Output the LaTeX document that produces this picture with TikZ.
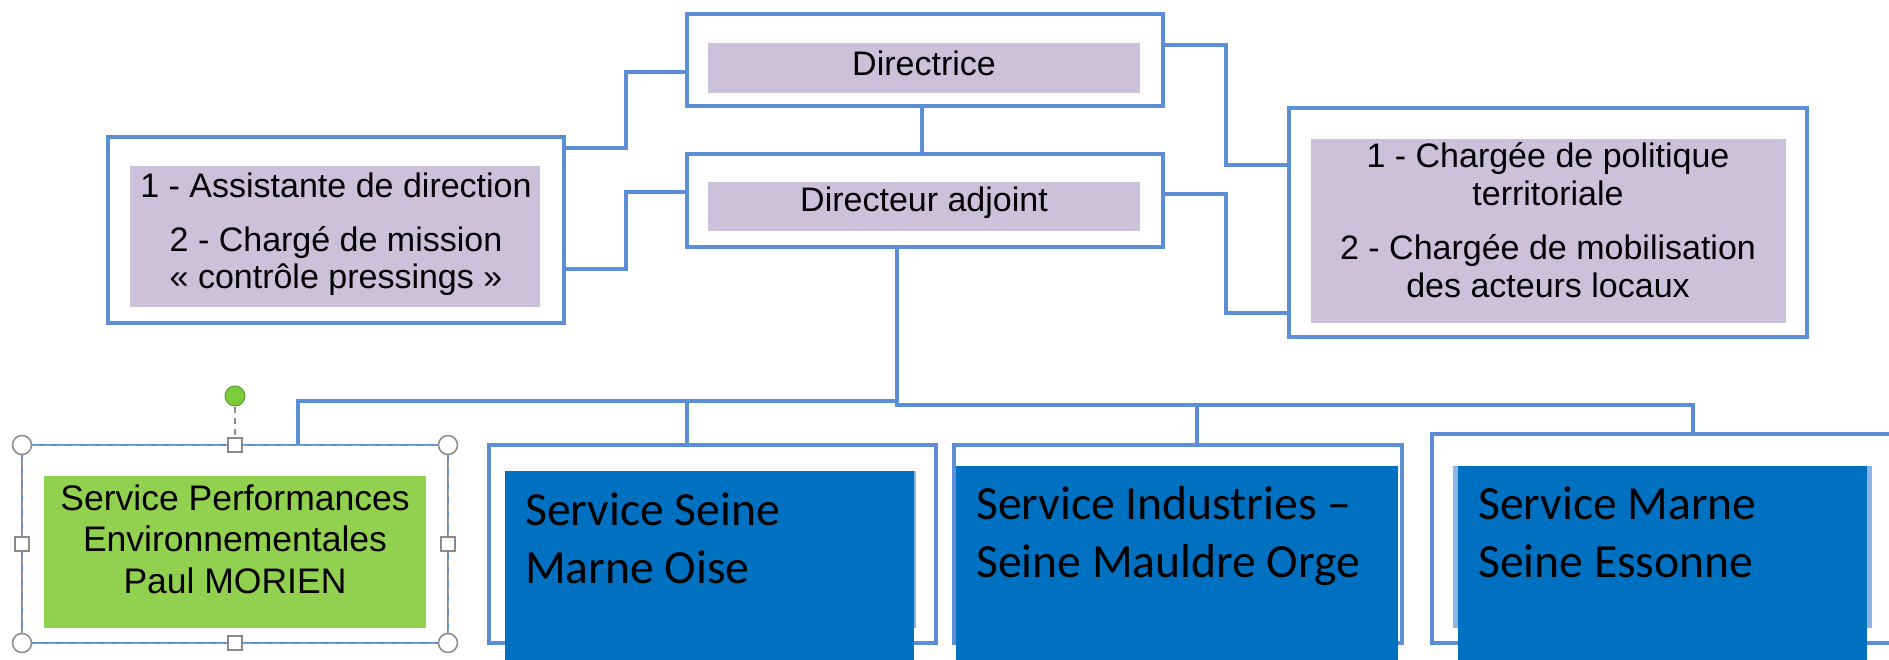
\documentclass[tikz,border=0pt]{standalone}
\usepackage{fontspec}
\setmainfont{Liberation Sans}
\newfontfamily\calibfont{Carlito}
\definecolor{linecol}{HTML}{5B8ED6}
\definecolor{lilac}{HTML}{CCC1DA}
\definecolor{leaf}{HTML}{92D050}
\definecolor{deepblue}{HTML}{0070C0}
\definecolor{paleblue}{HTML}{8DB6E6}
\definecolor{handlegray}{HTML}{8A8A8A}
\definecolor{rotgreen}{HTML}{7CCB3C}
\definecolor{rotgreendark}{HTML}{5E9E2E}
\begin{document}
\begin{tikzpicture}[x=1pt,y=-1pt,
  frame/.style={draw=linecol,line width=3.5pt,fill=white,inner sep=0pt,outer sep=0pt},
  fillbox/.style={inner sep=0pt,outer sep=0pt,draw=none},
  conn/.style={draw=linecol,line width=3.5pt},
  lbl/.style={inner sep=0pt,font=\fontsize{34}{37}\selectfont,align=center,anchor=base},
  bluelbl/.style={inner sep=0pt,font=\calibfont\fontsize{47.6}{58}\selectfont,align=left,anchor=base west},
  knob/.style={circle,draw=handlegray,line width=1.5pt,fill=white,minimum size=19pt,inner sep=0pt},
  sqhandle/.style={rectangle,draw=handlegray,line width=1.5pt,fill=white,minimum size=14pt,inner sep=0pt}]
\useasboundingbox (0,0) rectangle (1889,660);

% ---------- top boxes ----------
\node[frame,minimum width=476pt,minimum height=92pt] (dir) at (925,60) {};
\node[fillbox,fill=lilac,minimum width=432pt,minimum height=50pt] (dirin) at (924,68) {};
\node[lbl] (dirtx) at (924,76) {Directrice};

\node[frame,minimum width=476pt,minimum height=93pt] (adj) at (925,200.5) {};
\node[fillbox,fill=lilac,minimum width=432pt,minimum height=49pt] (adjin) at (924,206.5) {};
\node[lbl] (adjtx) at (924,212) {Directeur adjoint};

\node[frame,minimum width=456pt,minimum height=186pt] (left) at (336,230) {};
\node[fillbox,fill=lilac,minimum width=410pt,minimum height=141pt] (leftin) at (335,236.5) {};
\node[lbl,font=\fontsize{34}{36}\selectfont] (lefttx) at (336,288) {1 - Assistante de direction\\[19pt]2 - Chargé de mission\\« contrôle pressings »};

\node[frame,minimum width=518pt,minimum height=229pt] (right) at (1548,222.5) {};
\node[fillbox,fill=lilac,minimum width=475pt,minimum height=184pt] (rightin) at (1548.5,231) {};
\node[lbl] (righttx) at (1548,297) {1 - Chargée de politique\\territoriale\\[18pt]2 - Chargée de mobilisation\\des acteurs locaux};

% ---------- bottom boxes ----------
\node[frame,line width=2.5pt,minimum width=426pt,minimum height=198pt] (green) at (235,544) {};
\draw[handlegray!80,line width=1pt,dash pattern=on 8pt off 6pt] (green.north west) rectangle (green.south east);
\node[fillbox,fill=leaf,minimum width=382pt,minimum height=152pt] (greenin) at (235,552) {};
\node[lbl,font=\fontsize{35.5}{41.5}\selectfont] (greentx) at (235,593) {Service Performances\\Environnementales\\Paul MORIEN};

\node[frame,minimum width=447pt,minimum height=198pt] (seine) at (712.5,544) {};
\node[fillbox,fill=paleblue,minimum width=409pt,minimum height=157pt] (seinepale) at (711.5,549.5) {};
\node[fillbox,fill=deepblue,minimum width=409pt,minimum height=189pt] (seinein) at (709.5,565.5) {};
\node[bluelbl] (seinetx) at (525,583) {Service Seine\\Marne Oise};

\node[frame,minimum width=448pt,minimum height=198pt] (ind) at (1178,544) {};
\node[fillbox,fill=deepblue,minimum width=442pt,minimum height=194pt] (indin) at (1177,563) {};
\node[bluelbl] (indtx) at (976,577) {Service Industries –\\Seine Mauldre Orge};

\node[frame,minimum width=478pt,minimum height=209pt] (marne) at (1671,538.5) {};
\node[fillbox,fill=paleblue,minimum width=419pt,minimum height=162pt] (marnepale) at (1662.5,547) {};
\node[fillbox,fill=deepblue,minimum width=409pt,minimum height=194pt] (marnein) at (1662.5,563) {};
\node[bluelbl] (marnetx) at (1478,577) {Service Marne\\Seine Essonne};

% ---------- connectors ----------
\coordinate (xD) at (922,0);
\draw[conn] (dir.south -| xD) -- (adj.north -| xD);

\coordinate (l1a) at (626,72);
\coordinate (l1b) at (626,148);
\draw[conn] (dir.west |- l1a) -- (l1a) -- (l1b) -- (left.east |- l1b);
\coordinate (l2a) at (626,192);
\coordinate (l2b) at (626,269);
\draw[conn] (adj.west |- l2a) -- (l2a) -- (l2b) -- (left.east |- l2b);

\coordinate (r1a) at (1226,45);
\coordinate (r1b) at (1226,165);
\draw[conn] (dir.east |- r1a) -- (r1a) -- (r1b) -- (right.west |- r1b);
\coordinate (r2a) at (1226,194);
\coordinate (r2b) at (1226,313);
\draw[conn] (adj.east |- r2a) -- (r2a) -- (r2b) -- (right.west |- r2b);

\coordinate (busL) at (298,401);
\coordinate (jL) at (897,401);
\coordinate (jR) at (897,405);
\coordinate (busR) at (1693,405);
\coordinate (xS) at (687,401);
\coordinate (xI) at (1197,405);
\draw[conn] (green.north -| busL) -- (busL) -- (jL);
\draw[conn] (adj.south -| jR) -- (jR) -- (busR) -- (marne.north -| busR);
\draw[conn] (xS) -- (seine.north -| xS);
\draw[conn] (xI) -- (ind.north -| xI);

% ---------- selection handles ----------
\node[circle,fill=rotgreen,draw=rotgreendark,line width=1pt,minimum size=20pt,inner sep=0pt] (rot) at (235,396) {};
\node[sqhandle] (hn) at (green.north) {};
\draw[handlegray,line width=1.5pt,dash pattern=on 6pt off 5pt] (rot) -- (hn);
\node[sqhandle] (hs) at (green.south) {};
\node[sqhandle] (hw) at (green.west) {};
\node[sqhandle] (he) at (green.east) {};
\node[knob] (hnw) at (green.north west) {};
\node[knob] (hne) at (green.north east) {};
\node[knob] (hsw) at (green.south west) {};
\node[knob] (hse) at (green.south east) {};
\end{tikzpicture}
\end{document}
